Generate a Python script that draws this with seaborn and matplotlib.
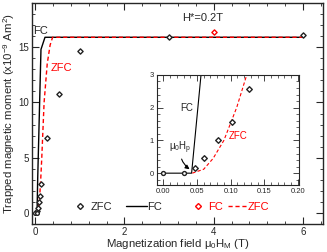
#!/usr/bin/env python3
"""
Trapped magnetic moment vs magnetization field (FC / ZFC) with inset
"""

import numpy as np
import pandas as pd
import matplotlib
matplotlib.use('Agg')
import matplotlib.pyplot as plt
from matplotlib.lines import Line2D
from matplotlib.ticker import MultipleLocator, FormatStrFormatter
import seaborn as sns

# Dados
zfc_x = [0.047, 0.061, 0.081, 0.1015, 0.127, 0.26, 0.53, 1.0, 3.0, 6.0]
zfc_y = [0.15, 0.46, 1.02, 1.56, 2.58, 6.8, 10.8, 14.7, 15.9, 16.15]
base_x = [0.0, 0.031]
base_y = [0.0, 0.0]
fc_red_x = [4.0]
fc_red_y = [16.4]

fc_curve_x = [0.0, 0.042, 0.056, 0.13, 0.22, 6.0]
fc_curve_y = [0.0, 0.0, 3.0, 14.8, 15.9, 15.9]
zfc_curve_x = [0.043, 0.06, 0.074, 0.09, 0.109, 0.124, 0.148, 0.2, 0.27, 0.335, 0.39, 6.0]
zfc_curve_y = [0.0, 0.12, 0.45, 1.0, 2.0, 3.0, 5.0, 10.0, 13.5, 15.2, 15.9, 15.9]

sns.set_style('ticks')
plt.rcParams['font.family'] = ['Liberation Sans', 'DejaVu Sans']
plt.rcParams['mathtext.fontset'] = 'custom'
plt.rcParams['mathtext.rm'] = 'Liberation Sans'
plt.rcParams['mathtext.it'] = 'Liberation Sans:italic'

fc_df = pd.DataFrame({'x': fc_curve_x, 'y': fc_curve_y})
zfc_df = pd.DataFrame({'x': zfc_curve_x, 'y': zfc_curve_y})
pts_df = pd.DataFrame({'x': zfc_x, 'y': zfc_y})
base_df = pd.DataFrame({'x': base_x, 'y': base_y})
red_df = pd.DataFrame({'x': fc_red_x, 'y': fc_red_y})

DASH = (0, (3, 2))


def draw(ax, ms, lw):
    sns.lineplot(data=fc_df, x='x', y='y', ax=ax, color='black', lw=lw,
                 sort=False, estimator=None)
    sns.lineplot(data=zfc_df, x='x', y='y', ax=ax, color='red', lw=lw,
                 sort=False, estimator=None, linestyle=DASH)
    sns.scatterplot(data=pts_df, x='x', y='y', ax=ax, marker='D', s=ms,
                    facecolor='white', edgecolor='#222222', linewidth=1.0, zorder=5)
    sns.scatterplot(data=base_df, x='x', y='y', ax=ax, marker='o', s=ms,
                    facecolor='white', edgecolor='#222222', linewidth=1.0, zorder=5)
    sns.scatterplot(data=red_df, x='x', y='y', ax=ax, marker='D', s=ms,
                    facecolor='white', edgecolor='red', linewidth=1.0, zorder=5)
    ax.set_xlabel('')
    ax.set_ylabel('')


fig = plt.figure(figsize=(3.27, 2.52), dpi=100)
ax = fig.add_axes([0.098, 0.111, 0.890, 0.877])
draw(ax, 7, 1.0)
ax.set_xlim(-0.07, 6.45)
ax.set_ylim(-1, 19)
ax.xaxis.set_major_locator(MultipleLocator(2))
ax.xaxis.set_minor_locator(MultipleLocator(0.4))
ax.yaxis.set_major_locator(MultipleLocator(5))
ax.yaxis.set_minor_locator(MultipleLocator(1))
ax.tick_params(which='both', direction='in', top=True, right=True, labelsize=7, pad=2)
ax.tick_params(which='major', length=5, width=0.8)
ax.tick_params(which='minor', length=2.5, width=0.6)
for s in ax.spines.values():
    s.set_linewidth(1.0)
ax.set_xlabel('Magnetization field μ$_0$H$_{\\rm M}$ (T)', fontsize=8.2, labelpad=0)
ax.set_ylabel('Trapped magnetic moment (x10$^{-9}$ Am$^2$)', fontsize=8.2, labelpad=1)

ax.text(3.3, 17.6, 'H*=0.2T', fontsize=8, va='center')
ax.text(-0.04, 16.5, 'FC', fontsize=8, va='center')
ax.text(0.34, 13.1, 'ZFC', fontsize=8, va='center', color='red')

# Legendas (duas partes, preta e vermelha)
h_black = [
    Line2D([], [], marker='D', ls='none', ms=3, mfc='white', mec='#222222', mew=1.0),
    Line2D([], [], color='black', lw=1.0),
]
h_red = [
    Line2D([], [], marker='D', ls='none', ms=3, mfc='white', mec='red', mew=1.0),
    Line2D([], [], color='red', lw=1.0, ls=DASH),
]
leg1 = ax.legend(h_black, ['ZFC', 'FC'], ncol=2, frameon=False, fontsize=8,
                 loc='center left', bbox_to_anchor=(0.211, 0.179),
                 bbox_transform=fig.transFigure, borderpad=0, borderaxespad=0,
                 handlelength=1.9, handletextpad=0.05, columnspacing=1.2)
ax.add_artist(leg1)
ax.legend(h_red, ['FC', 'ZFC'], ncol=2, frameon=False, fontsize=8,
          loc='center left', bbox_to_anchor=(0.578, 0.179),
          bbox_transform=fig.transFigure, borderpad=0, borderaxespad=0,
          handlelength=1.7, handletextpad=0.05, columnspacing=0.4,
          labelcolor='red')

# Inset
ins = fig.add_axes([0.479, 0.266, 0.436, 0.437])
draw(ins, 8, 0.8)
ins.set_xlim(-0.01, 0.202)
ins.set_ylim(-0.36, 3.0)
ins.xaxis.set_major_locator(MultipleLocator(0.05))
ins.xaxis.set_minor_locator(MultipleLocator(0.01))
ins.yaxis.set_major_locator(MultipleLocator(1))
ins.yaxis.set_minor_locator(MultipleLocator(0.2))
ins.tick_params(which='both', direction='in', top=True, right=True, labelsize=5.5, pad=2)
ins.tick_params(which='major', length=4, width=0.6)
ins.tick_params(which='minor', length=2, width=0.5)
ins.xaxis.set_major_formatter(FormatStrFormatter('%.2f'))
for s in ins.spines.values():
    s.set_linewidth(0.8)

ins.text(0.025, 2.0, 'FC', fontsize=7, va='center')
ins.text(0.097, 1.12, 'ZFC', fontsize=7, va='center', color='red')
ins.annotate('μ$_0$H$_{\\rm p}$', xy=(0.039, 0.12), xytext=(0.009, 0.78),
             fontsize=7, va='center',
             arrowprops=dict(arrowstyle='-|>', color='black', lw=0.8,
                             connectionstyle='arc3,rad=0.3', shrinkA=0, shrinkB=0,
                             mutation_scale=6))

fig.savefig('out.png', dpi=100)
plt.close(fig)
